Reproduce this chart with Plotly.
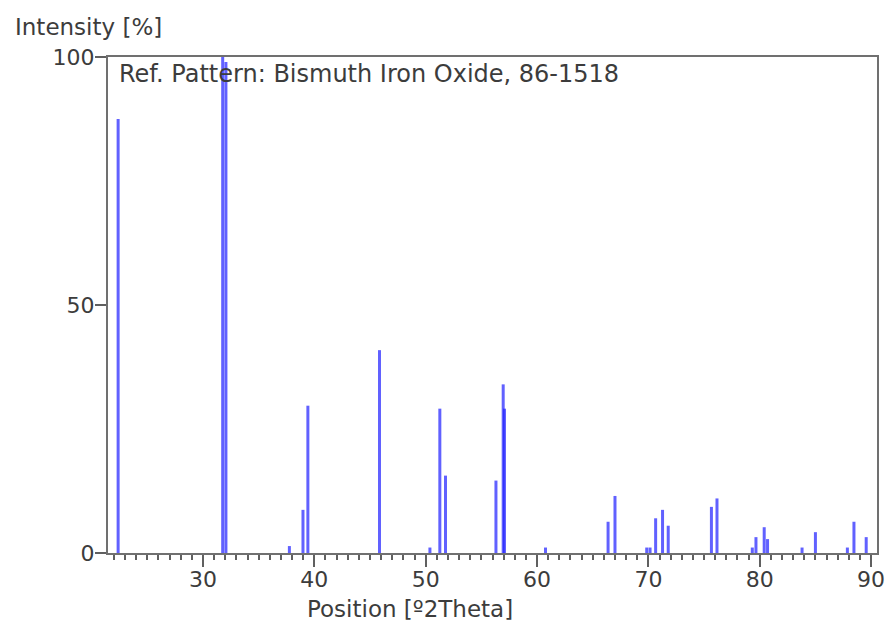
import plotly.graph_objects as go

# Reference pattern: Bismuth Iron Oxide, 86-1518
positions = [22.38, 31.77, 32.06, 37.76, 38.98, 39.42, 45.85, 50.38, 51.27, 51.78,
             56.31, 56.96, 57.08, 60.76, 66.38, 67.00, 69.85, 70.15, 70.65, 71.27,
             71.78, 75.66, 76.16, 79.33, 79.66, 80.40, 80.70, 83.80, 85.00, 87.87,
             88.46, 89.56]
intensities = [87.5, 100.0, 99.0, 1.4, 8.7, 29.7, 40.9, 1.1, 29.1, 15.6,
               14.6, 34.0, 29.1, 1.1, 6.3, 11.5, 1.1, 1.1, 7.0, 8.7,
               5.5, 9.3, 11.0, 1.1, 3.2, 5.2, 2.8, 1.1, 4.2, 1.1,
               6.3, 3.2]

x_ticks = [30, 40, 50, 60, 70, 80, 90]
y_ticks = [0, 50, 100]

xs, ys = [], []
for p, h in zip(positions, intensities):
    xs += [p, p, None]
    ys += [0, h, None]

FONT = "DejaVu Sans"
TXT = "#3c3c3c"

fig = go.Figure()
fig.add_trace(go.Scatter(x=xs, y=ys, mode="lines",
                         line=dict(color="rgba(30,30,255,0.70)", width=3),
                         hoverinfo="skip", showlegend=False, cliponaxis=False))

# page body has an 8px margin, so the figure is sized/shifted to compensate
fig.update_layout(
    width=885, height=616,
    margin=dict(l=100, r=8, t=49, b=71),
    paper_bgcolor="white", plot_bgcolor="white",
    font=dict(family=FONT, size=22, color=TXT),
    showlegend=False,
)
fig.update_xaxes(range=[21.47, 90.53], tickvals=x_ticks, ticks="outside", ticklen=12,
                 tickwidth=2, tickcolor="#606060", ticklabelstandoff=-6,
                 showline=True, linecolor="#707070", linewidth=2, mirror=True,
                 showgrid=False, zeroline=False,
                 minor=dict(dtick=1, tick0=0, ticks="outside", ticklen=5, tickwidth=2,
                            tickcolor="#606060", showgrid=False),
                 tickfont=dict(family=FONT, size=22, color=TXT))
fig.update_yaxes(range=[0, 100], tickvals=y_ticks, ticks="outside", ticklen=11,
                 tickwidth=2, tickcolor="#606060", ticklabelstandoff=-4,
                 showline=True, linecolor="#707070", linewidth=2, mirror=True,
                 showgrid=False, zeroline=False,
                 tickfont=dict(family=FONT, size=22, color=TXT))

fig.add_annotation(text="Ref. Pattern: Bismuth Iron Oxide, 86-1518", xref="paper", yref="paper",
                   x=0.0116, y=0.9657, xanchor="left", yanchor="middle", showarrow=False,
                   font=dict(family=FONT, size=24, color=TXT))
fig.add_annotation(text="Intensity [%]", xref="paper", yref="paper",
                   x=-0.1236, y=1.0605, xanchor="left", yanchor="middle", showarrow=False,
                   font=dict(family=FONT, size=23, color=TXT))
fig.add_annotation(text="Position [º2Theta]", xref="paper", yref="paper",
                   x=0.2561, y=-0.1129, xanchor="left", yanchor="middle", showarrow=False,
                   font=dict(family=FONT, size=23, color=TXT))

fig.write_html("out.html")
